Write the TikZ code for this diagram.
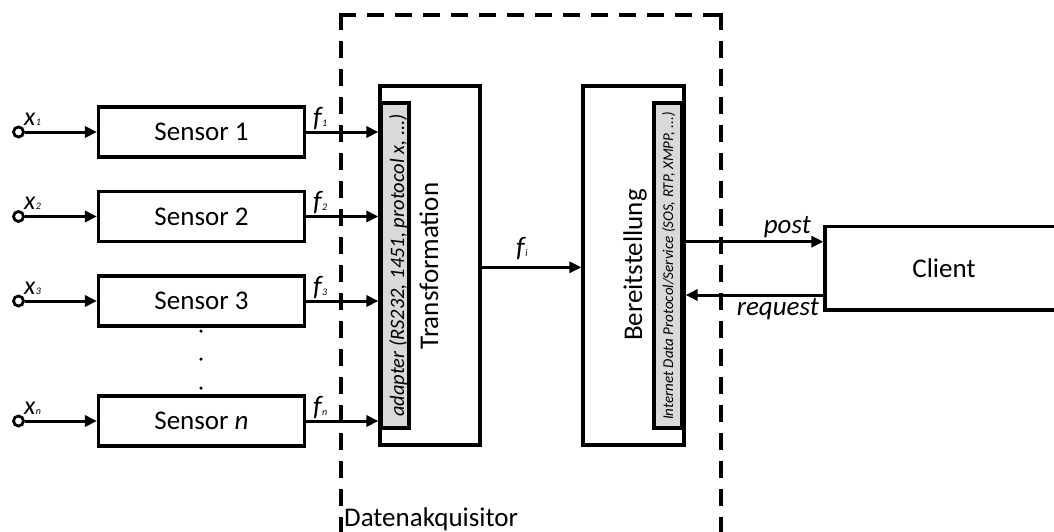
\documentclass[tikz,border=0pt]{standalone}
\usepackage{fontspec}
\setmainfont{Carlito}
\usetikzlibrary{arrows.meta}
\definecolor{adaptergray}{HTML}{D9D9D9}
% small index set just after a symbol
\newcommand\smallidx[1]{{\fontsize{10}{10}\selectfont\kern0.5pt #1}}
\tikzset{
  block/.style={draw, line width=3.2pt, fill=white, inner sep=0pt},
  sensorbox/.style={block, minimum width=206pt, minimum height=50pt,
    font=\fontsize{27}{27}\selectfont},
  innerbox/.style={draw, line width=4pt, fill=adaptergray, inner sep=0pt,
    minimum width=28pt, minimum height=325pt},
  port/.style={circle, draw, line width=2.8pt, minimum size=10pt, inner sep=0pt},
  flow/.style={line width=3pt, -{Triangle[length=12pt,width=11pt]}},
  bigtext/.style={inner sep=0pt, font=\fontsize{27}{27}\selectfont},
  xlabel/.style={inner sep=0pt, font=\fontsize{26}{26}\selectfont\itshape},
  flabel/.style={inner sep=0pt, font=\fontsize{28}{28}\selectfont\itshape},
  border/.style={line width=4pt, line cap=rect, dash pattern=on 13pt off 15pt},
  dot/.style={circle, fill, inner sep=0pt, minimum size=3.5pt}
}
\begin{document}
\begin{tikzpicture}[x=1pt,y=-1pt]
\useasboundingbox (0,0) rectangle (1054,531);
\clip (0,0) rectangle (1054,531);

% acquisition boundary
\coordinate (tl) at (341,15);
\coordinate (tr) at (721,15);
\coordinate (bl) at (341,570);
\coordinate (br) at (721,570);
\draw[border] (tl) -- (tr);
\draw[border] (tl) -- (bl);
\draw[border] (tr) -- (br);
\node[bigtext, anchor=base west] (acq) at (344,526) {Datenakquisitor};

% sensors and their inputs
\node[sensorbox] (s1) at (201.5,132) {Sensor 1};
\node[sensorbox] (s2) at (201.5,216.5) {Sensor 2};
\node[sensorbox] (s3) at (201.5,301) {Sensor 3};
\node[sensorbox] (sn) at (201.5,421) {Sensor \textit{n}};

\node[port] (p1) at (18.5,132) {};
\node[port] (p2) at (18.5,216.5) {};
\node[port] (p3) at (18.5,301) {};
\node[port] (pn) at (18.5,421) {};

\draw[flow] (p1) -- (s1);
\draw[flow] (p2) -- (s2);
\draw[flow] (p3) -- (s3);
\draw[flow] (pn) -- (sn);

\node[xlabel, anchor=base west] (x1) at (24,125) {x\smallidx{1}};
\node[xlabel, anchor=base west] (x2) at (24,209.5) {x\smallidx{2}};
\node[xlabel, anchor=base west] (x3) at (24,294) {x\smallidx{3}};
\node[xlabel, anchor=base west] (xn) at (24,414) {x\smallidx{n}};

\node[dot] (d1) at (201,331) {};
\node[dot] (d2) at (201,359) {};
\node[dot] (d3) at (201,388) {};

% transformation stage with its adapter
\node[block, minimum width=100pt, minimum height=359pt] (trans) at (430,265.5) {};
\node[innerbox] (adapter) at (395,265.5) {};
\node[inner sep=0pt, rotate=90, anchor=base, font=\fontsize{20.5}{20.5}\selectfont\itshape]
  (adaptertext) at (404,265.5) {adapter (RS232, 1451, protocol x, ...)};
\node[bigtext, rotate=90, anchor=base] (transtext) at (438,266) {Transformation};

\draw[flow] (s1.east) -- (s1.east -| trans.west);
\draw[flow] (s2.east) -- (s2.east -| trans.west);
\draw[flow] (s3.east) -- (s3.east -| trans.west);
\draw[flow] (sn.east) -- (sn.east -| trans.west);

\node[flabel, anchor=base west] (f1) at (313,126) {f\smallidx{1}};
\node[flabel, anchor=base west] (f2) at (313,210.5) {f\smallidx{2}};
\node[flabel, anchor=base west] (f3) at (313,295) {f\smallidx{3}};
\node[flabel, anchor=base west] (fn) at (313,415) {f\smallidx{n}};

% provision stage with its protocol layer
\node[block, minimum width=101pt, minimum height=359pt] (prov) at (633.5,265.5) {};
\node[innerbox] (proto) at (668,265.5) {};
\node[inner sep=0pt, rotate=90, anchor=base, font=\fontsize{15}{15}\selectfont\itshape]
  (prototext) at (673,266) {Internet Data Protocol/Service (SOS, RTP, XMPP, ...)};
\node[bigtext, rotate=90, anchor=base] (provtext) at (642,265) {Bereitstellung};

\coordinate (fiy) at (0,267.3);
\draw[flow] (fiy -| trans.east) -- (fiy -| prov.west);
\node[flabel, anchor=base west] (fi) at (516,256) {f\smallidx{i}};

% client
\node[block, minimum width=240pt, minimum height=83.5pt] (client) at (945,268.25) {};
\node[bigtext] (clienttext) at (944,268) {Client};

\coordinate (posty) at (0,241.7);
\coordinate (reqy) at (0,295);
\draw[flow] (posty -| prov.east) -- (posty -| client.west);
\draw[flow] (reqy -| client.west) -- (reqy -| prov.east);
\node[bigtext, font=\fontsize{27}{27}\selectfont\itshape, anchor=base east] (post) at (811,233) {post};
\node[bigtext, font=\fontsize{27}{27}\selectfont\itshape, anchor=base east] (request) at (819,315) {request};
\end{tikzpicture}
\end{document}
